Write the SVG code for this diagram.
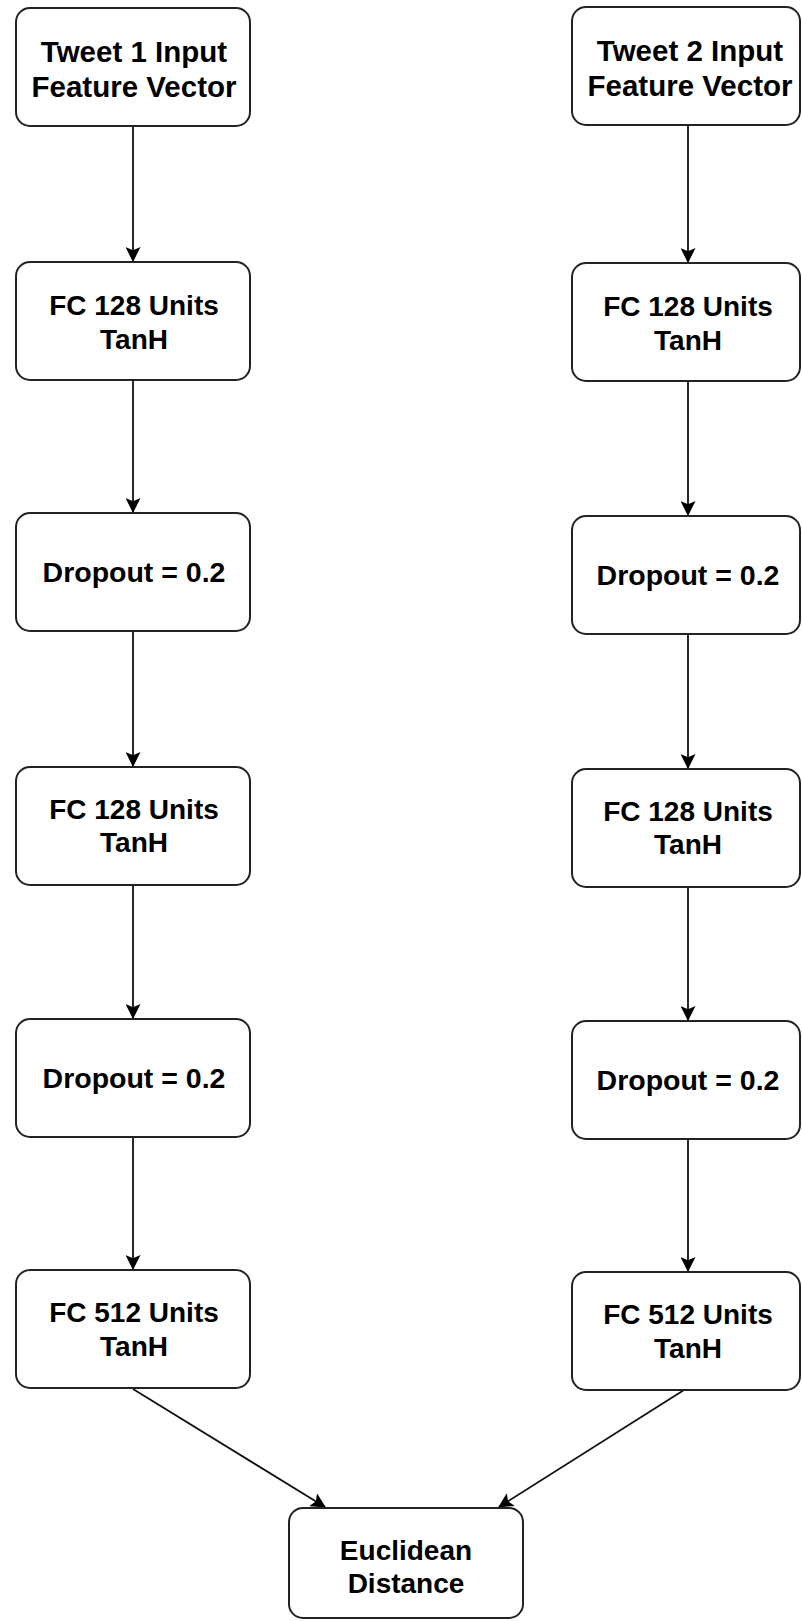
<svg xmlns="http://www.w3.org/2000/svg" width="802" height="1621" viewBox="0 0 802 1621">
<style>
.box{fill:#fff;stroke:#222;stroke-width:2}
.t{font-family:"Liberation Sans",Arial,sans-serif;font-weight:bold;font-size:28px;fill:#000;text-anchor:middle}
.d{font-size:28.5px}
.w{font-size:29.5px}
.c{fill:none;stroke:#111;stroke-width:1.8}
</style>
<defs>
<marker id="ah" viewBox="0 0 14 14" refX="13" refY="7" markerWidth="15" markerHeight="15" markerUnits="userSpaceOnUse" orient="auto">
<path d="M0,0 L14,7 L0,14 L3,7 Z" fill="#000"/>
</marker>
</defs>
<rect width="802" height="1621" fill="#fff"/>
<g id="connectors">
<line class="c" x1="133" y1="126" x2="133" y2="261" marker-end="url(#ah)"/>
<line class="c" x1="133" y1="380" x2="133" y2="512" marker-end="url(#ah)"/>
<line class="c" x1="133" y1="631" x2="133" y2="766" marker-end="url(#ah)"/>
<line class="c" x1="133" y1="885" x2="133" y2="1018" marker-end="url(#ah)"/>
<line class="c" x1="133" y1="1137" x2="133" y2="1269" marker-end="url(#ah)"/>
<line class="c" x1="688" y1="125" x2="688" y2="262" marker-end="url(#ah)"/>
<line class="c" x1="688" y1="381" x2="688" y2="515" marker-end="url(#ah)"/>
<line class="c" x1="688" y1="634" x2="688" y2="768" marker-end="url(#ah)"/>
<line class="c" x1="688" y1="887" x2="688" y2="1020" marker-end="url(#ah)"/>
<line class="c" x1="688" y1="1139" x2="688" y2="1271" marker-end="url(#ah)"/>
<line class="c" x1="133" y1="1389" x2="325" y2="1507" marker-end="url(#ah)"/>
<line class="c" x1="684" y1="1390" x2="499" y2="1507" marker-end="url(#ah)"/>
</g>
<g id="l1"><rect class="box" x="16" y="8" width="234" height="118" rx="14"/><text class="t w" x="134" y="62">Tweet 1 Input</text><text class="t w" x="134" y="97">Feature Vector</text></g>
<g id="l2"><rect class="box" x="16" y="262" width="234" height="118" rx="14"/><text class="t" x="134" y="315">FC 128 Units</text><text class="t" x="134" y="349">TanH</text></g>
<g id="l3"><rect class="box" x="16" y="513" width="234" height="118" rx="14"/><text class="t d" x="134" y="582">Dropout = 0.2</text></g>
<g id="l4"><rect class="box" x="16" y="767" width="234" height="118" rx="14"/><text class="t" x="134" y="819">FC 128 Units</text><text class="t" x="134" y="852">TanH</text></g>
<g id="l5"><rect class="box" x="16" y="1019" width="234" height="118" rx="14"/><text class="t d" x="134" y="1088">Dropout = 0.2</text></g>
<g id="l6"><rect class="box" x="16" y="1270" width="234" height="118" rx="14"/><text class="t" x="134" y="1322">FC 512 Units</text><text class="t" x="134" y="1356">TanH</text></g>
<g id="r1"><rect class="box" x="572" y="7" width="228" height="118" rx="14"/><text class="t w" x="690" y="61">Tweet 2 Input</text><text class="t w" x="690" y="96">Feature Vector</text></g>
<g id="r2"><rect class="box" x="572" y="263" width="228" height="118" rx="14"/><text class="t" x="688" y="316">FC 128 Units</text><text class="t" x="688" y="350">TanH</text></g>
<g id="r3"><rect class="box" x="572" y="516" width="228" height="118" rx="14"/><text class="t d" x="688" y="585">Dropout = 0.2</text></g>
<g id="r4"><rect class="box" x="572" y="769" width="228" height="118" rx="14"/><text class="t" x="688" y="821">FC 128 Units</text><text class="t" x="688" y="854">TanH</text></g>
<g id="r5"><rect class="box" x="572" y="1021" width="228" height="118" rx="14"/><text class="t d" x="688" y="1090">Dropout = 0.2</text></g>
<g id="r6"><rect class="box" x="572" y="1272" width="228" height="118" rx="14"/><text class="t" x="688" y="1324">FC 512 Units</text><text class="t" x="688" y="1358">TanH</text></g>
<g id="euclid"><rect class="box" x="289" y="1508" width="234" height="110" rx="14"/><text class="t" x="406" y="1560">Euclidean</text><text class="t" x="406" y="1593">Distance</text></g>
</svg>
